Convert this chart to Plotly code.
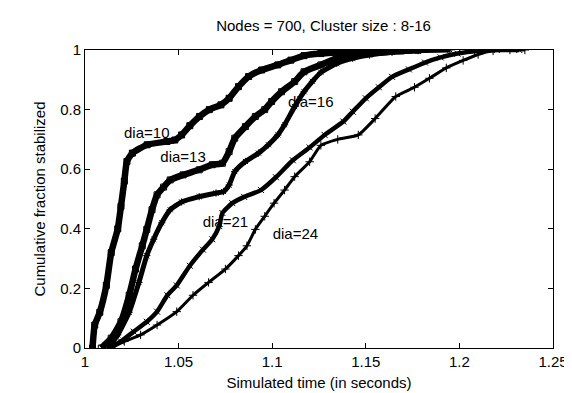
import plotly.graph_objects as go

# ---- data ----
dia10_t = [1.004, 1.0052, 1.0079, 1.0114, 1.014, 1.0175, 1.0192, 1.021, 1.0224, 1.0253, 1.0332, 1.0437, 1.048,
           1.0516, 1.056, 1.0612, 1.0664, 1.0726, 1.077, 1.082, 1.0874, 1.0944, 1.103, 1.110, 1.117, 1.126, 1.14,
           1.161, 1.178]
dia10_y = [0.0, 0.077, 0.12, 0.21, 0.32, 0.40, 0.475, 0.56, 0.626, 0.654, 0.682, 0.693, 0.698,
           0.715, 0.746, 0.777, 0.80, 0.816, 0.838, 0.877, 0.911, 0.933, 0.95, 0.966, 0.981, 0.988, 0.993,
           0.997, 1.0]

dia13_t = [1.0087, 1.014, 1.0192, 1.0236, 1.027, 1.0306, 1.033, 1.0358, 1.0385, 1.042, 1.0455, 1.0524, 1.061,
           1.068, 1.0734, 1.077, 1.080, 1.0857, 1.091, 1.096, 1.0997, 1.105, 1.112, 1.117, 1.126, 1.1345, 1.143,
           1.157, 1.169, 1.178]
dia13_y = [0.0, 0.033, 0.088, 0.177, 0.265, 0.343, 0.398, 0.464, 0.514, 0.54, 0.564, 0.581, 0.598,
           0.615, 0.62, 0.659, 0.704, 0.743, 0.777, 0.80, 0.827, 0.86, 0.894, 0.927, 0.95, 0.972, 0.983,
           0.992, 0.997, 1.0]

dia16_t = [1.0122, 1.0175, 1.0236, 1.0288, 1.033, 1.0367, 1.041, 1.0455, 1.0516, 1.061, 1.070, 1.074, 1.077,
           1.080, 1.0857, 1.0927, 1.098, 1.103, 1.1066, 1.112, 1.117, 1.1215, 1.126, 1.1345, 1.143, 1.152,
           1.164, 1.178, 1.195]
dia16_y = [0.0, 0.044, 0.12, 0.22, 0.31, 0.365, 0.42, 0.464, 0.49, 0.508, 0.52, 0.525, 0.547,
           0.592, 0.626, 0.654, 0.682, 0.715, 0.749, 0.81, 0.86, 0.895, 0.925, 0.955, 0.972, 0.983,
           0.992, 0.998, 1.0]

dia21_t = [1.013, 1.0192, 1.026, 1.033, 1.0385, 1.044, 1.049, 1.056, 1.063, 1.068, 1.0717, 1.0734, 1.0787,
           1.085, 1.094, 1.102, 1.111, 1.12, 1.128, 1.138, 1.143, 1.15, 1.157, 1.164, 1.173, 1.1816, 1.19,
           1.199, 1.2095, 1.22, 1.232]
dia21_y = [0.0, 0.022, 0.055, 0.088, 0.122, 0.177, 0.21, 0.276, 0.33, 0.365, 0.409, 0.453, 0.486,
           0.507, 0.53, 0.573, 0.63, 0.673, 0.715, 0.76, 0.793, 0.838, 0.875, 0.91, 0.935, 0.958, 0.975,
           0.988, 0.997, 1.0, 1.0]

dia24_t = [1.014, 1.021, 1.0297, 1.0385, 1.049, 1.0577, 1.066, 1.075, 1.082, 1.0865, 1.091, 1.096, 1.101,
           1.1066, 1.112, 1.12, 1.126, 1.135, 1.146, 1.155, 1.166, 1.176, 1.184, 1.193, 1.202, 1.21, 1.218,
           1.227, 1.235]
dia24_y = [0.0, 0.022, 0.044, 0.077, 0.122, 0.177, 0.22, 0.265, 0.31, 0.343, 0.398, 0.442, 0.486,
           0.53, 0.575, 0.625, 0.68, 0.70, 0.715, 0.77, 0.844, 0.875, 0.905, 0.94, 0.965, 0.985, 0.997,
           1.0, 1.0]

label_text = ["dia=10", "dia=13", "dia=16", "dia=21", "dia=24"]
label_x = [1.033, 1.0524, 1.1206, 1.075, 1.1124]
label_y = [0.716, 0.637, 0.821, 0.417, 0.38]

x_tickvals = [1.0, 1.05, 1.1, 1.15, 1.2, 1.25]
x_ticktext = ["1", "1.05", "1.1", "1.15", "1.2", "1.25"]
y_tickvals = [0, 0.2, 0.4, 0.6, 0.8, 1.0]
y_ticktext = ["0", "0.2", "0.4", "0.6", "0.8", "1"]

FONT = "Liberation Sans, Arial, Helvetica, sans-serif"

fig = go.Figure()

# labels first so curves draw over them
fig.add_trace(go.Scatter(x=label_x, y=label_y, text=label_text, mode="text",
                         textfont=dict(family=FONT, size=15, color="black"),
                         hoverinfo="skip", showlegend=False))

series = [
    (dia10_t, dia10_y, 6.5, "square", 6),
    (dia13_t, dia13_y, 6.5, "square-open", 6),
    (dia16_t, dia16_y, 5.0, "asterisk-open", 6),
    (dia21_t, dia21_y, 4.5, "x-thin-open", 6),
    (dia24_t, dia24_y, 3.0, "cross-thin-open", 6),
]
for t, y, w, sym, ms in series:
    fig.add_trace(go.Scatter(x=t, y=y, mode="lines+markers",
                             line=dict(color="black", width=w, shape="spline", smoothing=0.5),
                             marker=dict(symbol=sym, size=ms, color="black",
                                         line=dict(color="black", width=1)),
                             showlegend=False, hoverinfo="skip"))

fig.update_layout(
    width=572, height=393,
    margin=dict(l=77, r=18, t=42, b=50),
    paper_bgcolor="white", plot_bgcolor="white",
    font=dict(family=FONT, size=15, color="black"),
    title=dict(text="Nodes = 700, Cluster size : 8-16", x=(77 + 554) / 2 / 572, xanchor="center",
               y=1 - 18 / 393, yanchor="middle", yref="container",
               font=dict(family=FONT, size=15, color="black")),
    xaxis=dict(range=[1.0, 1.25], tickvals=x_tickvals, ticktext=x_ticktext,
               showline=True, linecolor="black", linewidth=1, mirror="ticks",
               ticks="inside", ticklen=5, tickcolor="black", showgrid=False, zeroline=False,
               title=dict(text="Simulated time (in seconds)", standoff=8,
                          font=dict(family=FONT, size=15))),
    yaxis=dict(range=[0, 1.0], tickvals=y_tickvals, ticktext=y_ticktext,
               showline=True, linecolor="black", linewidth=1, mirror="ticks",
               ticks="inside", ticklen=5, tickcolor="black", showgrid=False, zeroline=False,
               title=dict(text="Cumulative fraction stabilized", standoff=10,
                          font=dict(family=FONT, size=15))),
)

fig.write_html("out.html")
